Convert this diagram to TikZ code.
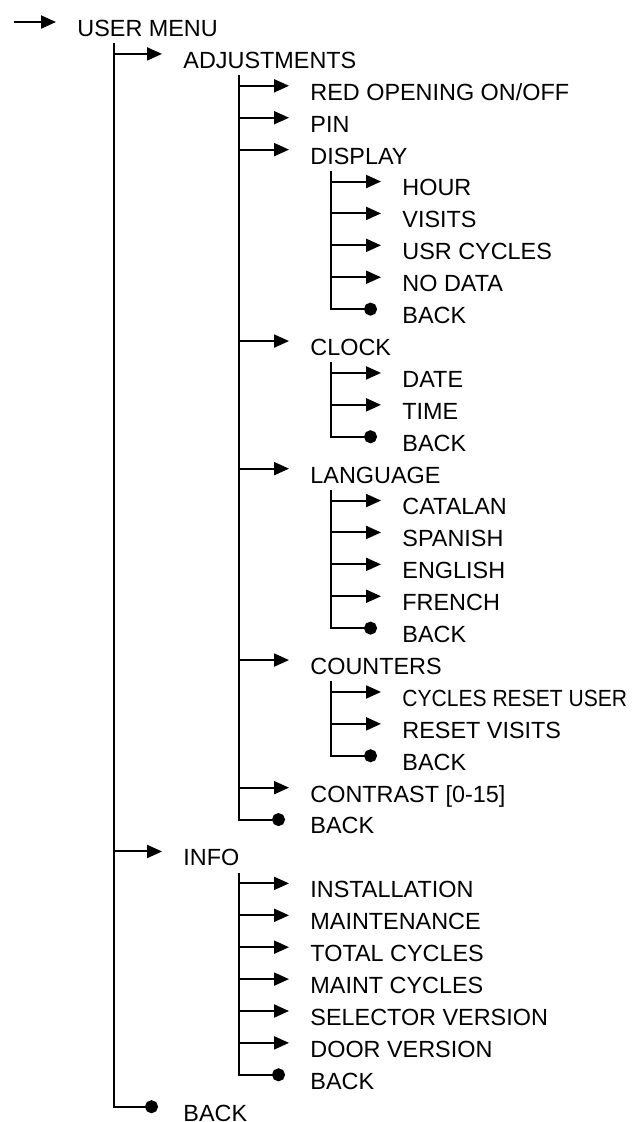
\documentclass[tikz,border=0pt]{standalone}
\usepackage{fontspec}
\setmainfont{Liberation Sans}
\usetikzlibrary{arrows.meta}

\tikzset{
  menuitem/.style={anchor=west, inner xsep=10.5pt, inner ysep=3.3pt,
    text height=14.4pt, text depth=0pt, font=\fontsize{11.7}{14}\selectfont},
  toarrow/.style={line width=1pt, -{Triangle[length=7.5pt,width=6.5pt]}},
  todot/.style={line width=1pt, -{Circle[length=6.5pt]}, shorten >=2pt}
}

\begin{document}
\begin{tikzpicture}[x=0.5pt, y=-15.95pt]
  \useasboundingbox (0,-0.69) rectangle (633,34.48);

  % Define the trunk positions
  \coordinate (start) at (14,0);
  \coordinate (t1) at (114,0);
  \coordinate (t2) at (239,0);
  \coordinate (t3) at (331,0);

  % Menu entries, one per row
  \node[menuitem] (menu) at (56,0) {USER MENU};
  \node[menuitem] (adj) at (162,1) {ADJUSTMENTS};
  \node[menuitem] (red) at (289,2) {RED OPENING ON/OFF};
  \node[menuitem] (pin) at (289,3) {PIN};
  \node[menuitem] (disp) at (289,4) {DISPLAY};
  \node[menuitem] (hour) at (381,5) {HOUR};
  \node[menuitem] (visits) at (381,6) {VISITS};
  \node[menuitem] (usrcyc) at (381,7) {USR CYCLES};
  \node[menuitem] (nodata) at (381,8) {NO DATA};
  \node[menuitem] (dback) at (381,9) {BACK};
  \node[menuitem] (clock) at (289,10) {CLOCK};
  \node[menuitem] (date) at (381,11) {DATE};
  \node[menuitem] (time) at (381,12) {TIME};
  \node[menuitem] (cback) at (381,13) {BACK};
  \node[menuitem] (lang) at (289,14) {LANGUAGE};
  \node[menuitem] (cat) at (381,15) {CATALAN};
  \node[menuitem] (spa) at (381,16) {SPANISH};
  \node[menuitem] (eng) at (381,17) {ENGLISH};
  \node[menuitem] (fre) at (381,18) {FRENCH};
  \node[menuitem] (lback) at (381,19) {BACK};
  \node[menuitem] (count) at (289,20) {COUNTERS};
  \node[menuitem] (cycres) at (381,21) {\scalebox{0.9}[1]{CYCLES RESET USER}};
  \node[menuitem] (visres) at (381,22) {RESET VISITS};
  \node[menuitem] (kback) at (381,23) {BACK};
  \node[menuitem] (contr) at (289,24) {CONTRAST [0-15]};
  \node[menuitem] (aback) at (289,25) {BACK};
  \node[menuitem] (info) at (162,26) {INFO};
  \node[menuitem] (inst) at (289,27) {INSTALLATION};
  \node[menuitem] (maint) at (289,28) {MAINTENANCE};
  \node[menuitem] (totcyc) at (289,29) {TOTAL CYCLES};
  \node[menuitem] (maintcyc) at (289,30) {MAINT CYCLES};
  \node[menuitem] (selver) at (289,31) {SELECTOR VERSION};
  \node[menuitem] (doorver) at (289,32) {DOOR VERSION};
  \node[menuitem] (iback) at (289,33) {BACK};
  \node[menuitem] (back) at (162,34) {BACK};

  % Top level
  \draw[toarrow] (start) -- (menu.west);
  \draw[todot] (t1 |- menu.south) |- (back.west);
  \draw[toarrow] (t1 |- adj.west) -- (adj.west);
  \draw[toarrow] (t1 |- info.west) -- (info.west);

  % Adjustments branch
  \draw[todot] (t2 |- adj.south) |- (aback.west);
  \draw[toarrow] (t2 |- red.west) -- (red.west);
  \draw[toarrow] (t2 |- pin.west) -- (pin.west);
  \draw[toarrow] (t2 |- disp.west) -- (disp.west);
  \draw[toarrow] (t2 |- clock.west) -- (clock.west);
  \draw[toarrow] (t2 |- lang.west) -- (lang.west);
  \draw[toarrow] (t2 |- count.west) -- (count.west);
  \draw[toarrow] (t2 |- contr.west) -- (contr.west);

  % Display
  \draw[todot] (t3 |- disp.south) |- (dback.west);
  \draw[toarrow] (t3 |- hour.west) -- (hour.west);
  \draw[toarrow] (t3 |- visits.west) -- (visits.west);
  \draw[toarrow] (t3 |- usrcyc.west) -- (usrcyc.west);
  \draw[toarrow] (t3 |- nodata.west) -- (nodata.west);

  % Clock
  \draw[todot] (t3 |- clock.south) |- (cback.west);
  \draw[toarrow] (t3 |- date.west) -- (date.west);
  \draw[toarrow] (t3 |- time.west) -- (time.west);

  % Language
  \draw[todot] (t3 |- lang.south) |- (lback.west);
  \draw[toarrow] (t3 |- cat.west) -- (cat.west);
  \draw[toarrow] (t3 |- spa.west) -- (spa.west);
  \draw[toarrow] (t3 |- eng.west) -- (eng.west);
  \draw[toarrow] (t3 |- fre.west) -- (fre.west);

  % Counters
  \draw[todot] (t3 |- count.south) |- (kback.west);
  \draw[toarrow] (t3 |- cycres.west) -- (cycres.west);
  \draw[toarrow] (t3 |- visres.west) -- (visres.west);

  % Info branch
  \draw[todot] (t2 |- info.south) |- (iback.west);
  \draw[toarrow] (t2 |- inst.west) -- (inst.west);
  \draw[toarrow] (t2 |- maint.west) -- (maint.west);
  \draw[toarrow] (t2 |- totcyc.west) -- (totcyc.west);
  \draw[toarrow] (t2 |- maintcyc.west) -- (maintcyc.west);
  \draw[toarrow] (t2 |- selver.west) -- (selver.west);
  \draw[toarrow] (t2 |- doorver.west) -- (doorver.west);
\end{tikzpicture}
\end{document}
